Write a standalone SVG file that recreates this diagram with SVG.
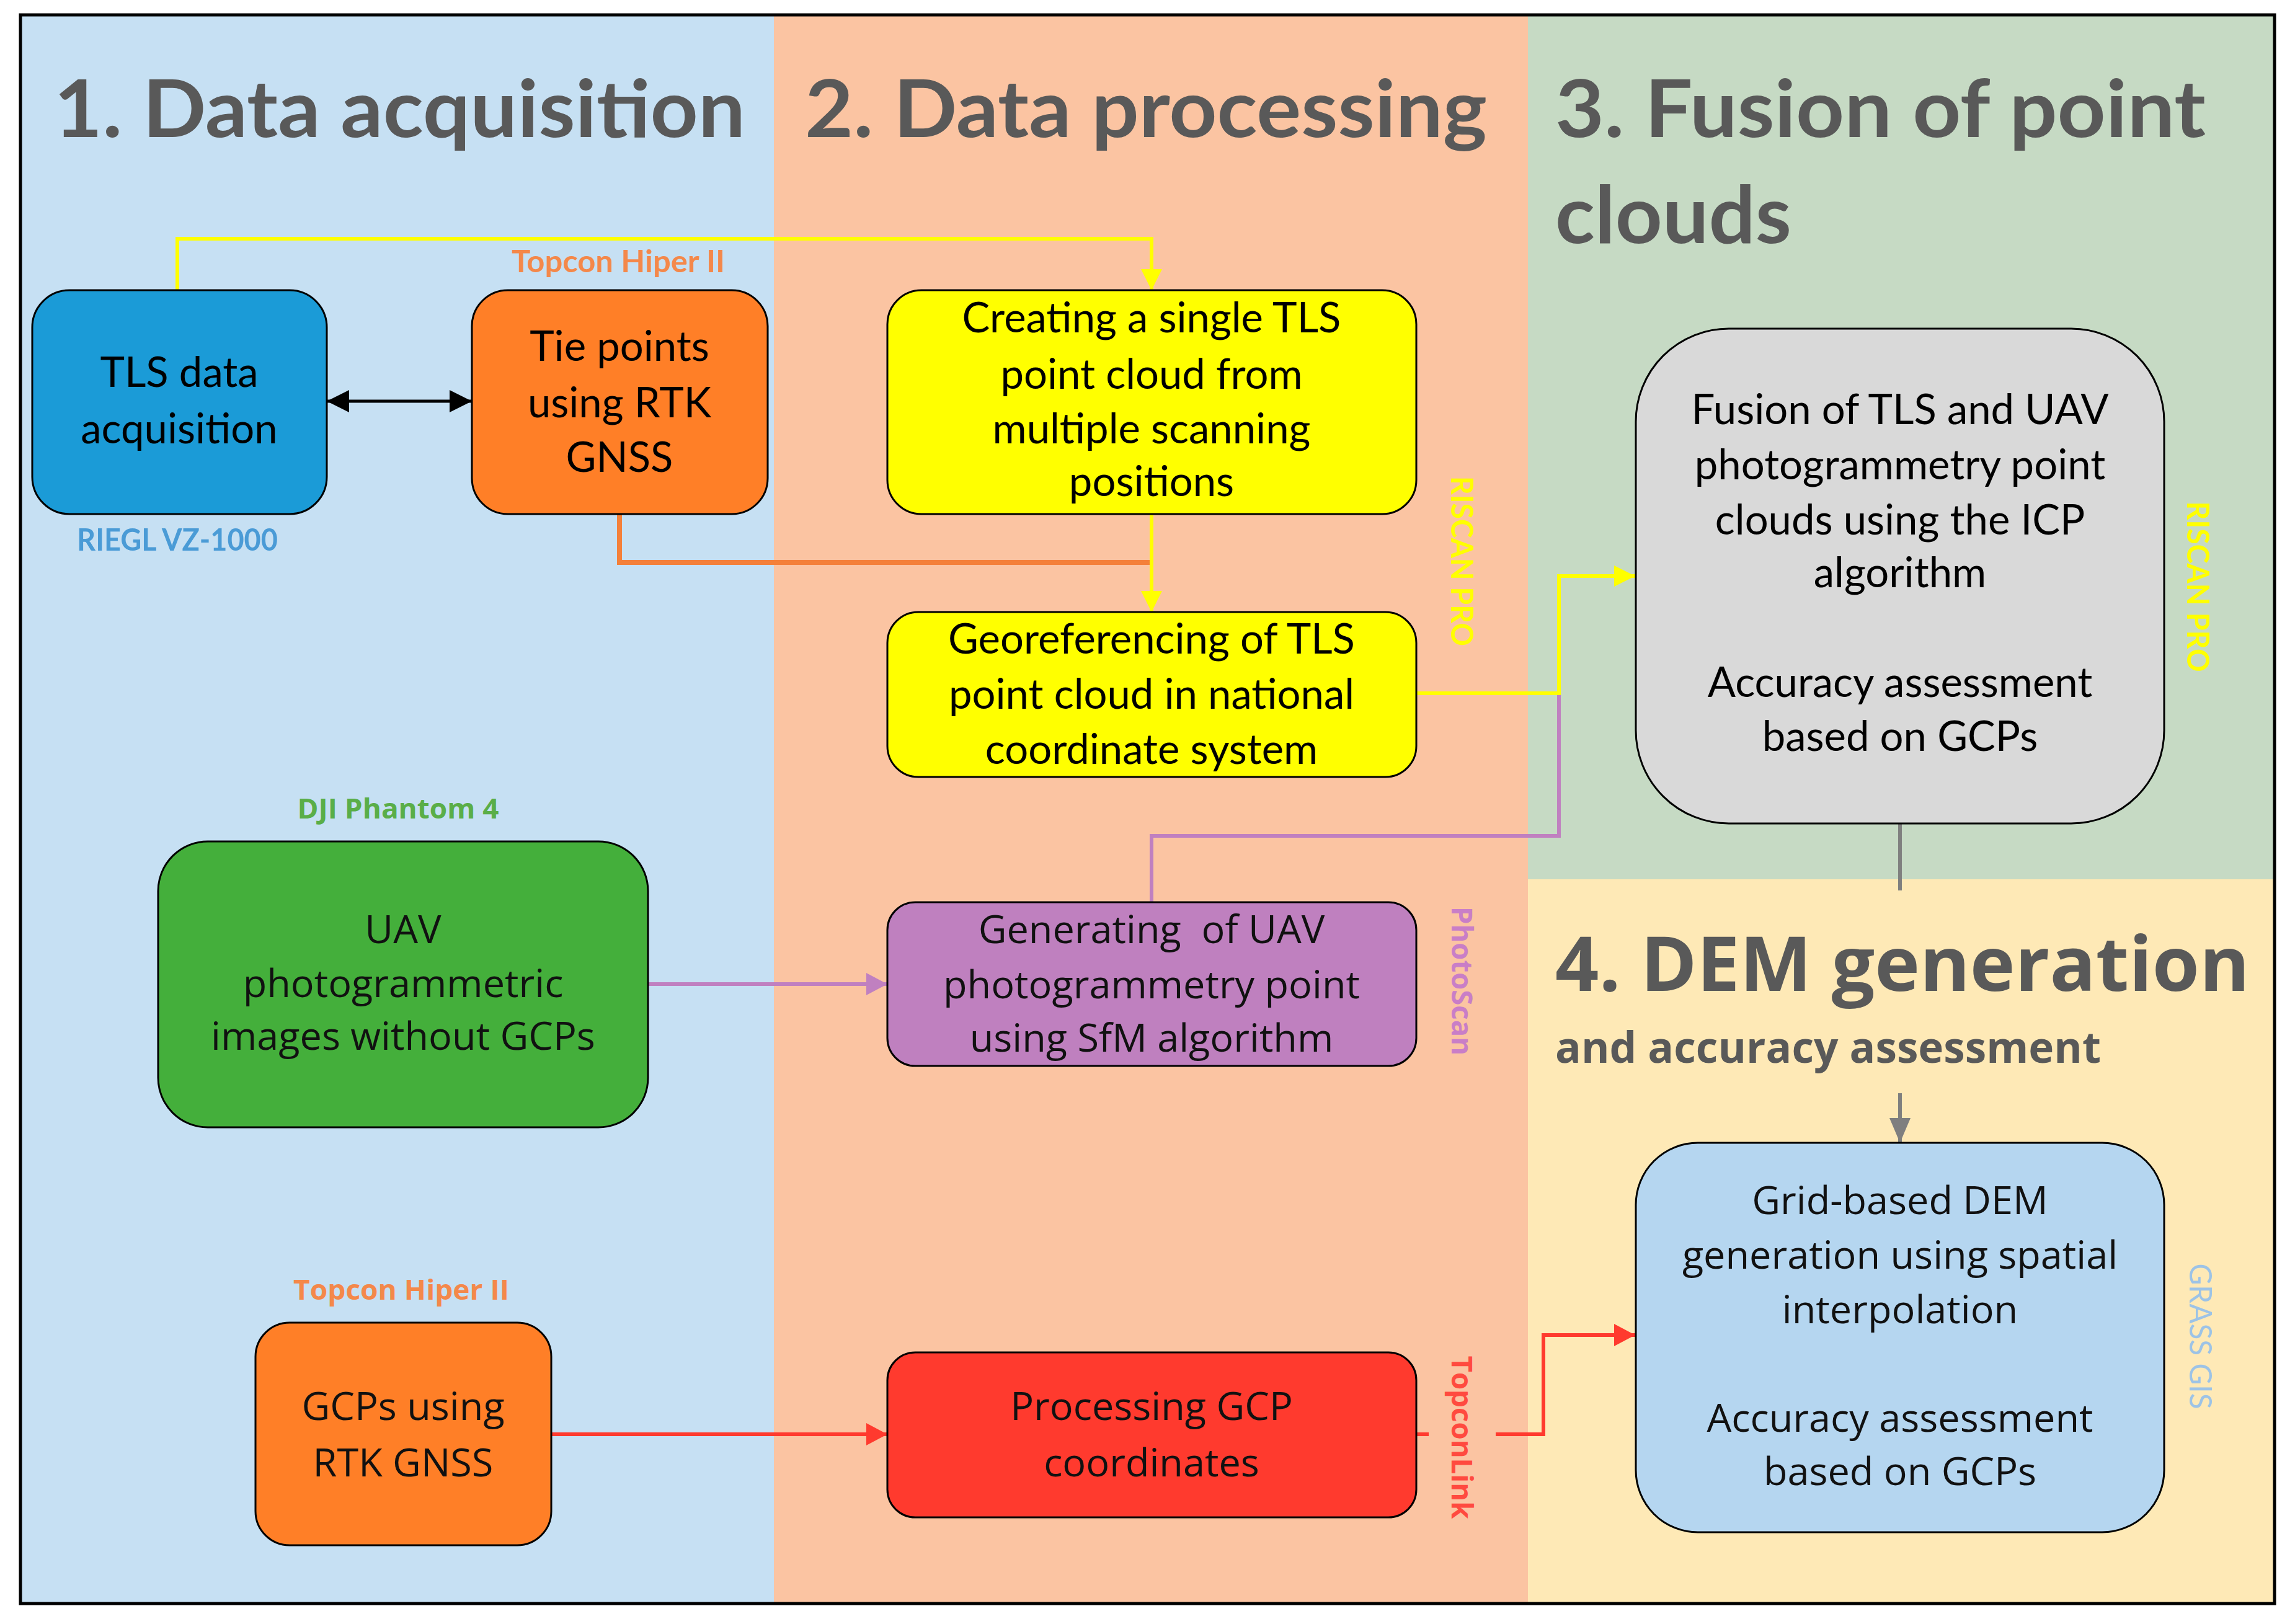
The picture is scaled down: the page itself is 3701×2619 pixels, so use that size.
<svg xmlns="http://www.w3.org/2000/svg" width="3701" height="2619" viewBox="0 0 3701 2619">
<style>
.cal{font-family:Lato,'Liberation Sans',sans-serif;}
.seg{font-family:'Open Sans','Noto Sans',sans-serif;}
.title{font-weight:bold;fill:#595959;}
.body{font-size:67px;fill:#000;text-anchor:middle;}
.sbody{font-size:63px;fill:#111;text-anchor:middle;}
.node{stroke:#000;stroke-width:3;}
.lab{font-weight:bold;}
.conn{fill:none;}
</style>
<defs>
<marker id="aY" markerUnits="userSpaceOnUse" markerWidth="36" markerHeight="34" refX="34" refY="17" orient="auto"><path d="M0,0 L34,17 L0,34 z" fill="#FFFF00"/></marker>
<marker id="aP" markerUnits="userSpaceOnUse" markerWidth="36" markerHeight="36" refX="34" refY="18" orient="auto"><path d="M0,0 L34,18 L0,36 z" fill="#C080C0"/></marker>
<marker id="aR" markerUnits="userSpaceOnUse" markerWidth="36" markerHeight="36" refX="34" refY="18" orient="auto"><path d="M0,0 L34,18 L0,36 z" fill="#FF3A2E"/></marker>
<marker id="aG" markerUnits="userSpaceOnUse" markerWidth="42" markerHeight="34" refX="40" refY="17" orient="auto"><path d="M0,0 L40,17 L0,34 z" fill="#7F7F7F"/></marker>
<marker id="aK" markerUnits="userSpaceOnUse" markerWidth="38" markerHeight="36" refX="36" refY="18" orient="auto-start-reverse"><path d="M0,0 L36,18 L0,36 z" fill="#000"/></marker>
</defs>

<g id="background">
<rect x="0" y="0" width="3701" height="2619" fill="#FFFFFF"/>
<rect x="33" y="24" width="1216" height="2562" fill="#C6E0F3"/>
<rect x="1248" y="24" width="1217" height="2562" fill="#FBC4A2"/>
<rect x="2464" y="24" width="1204" height="1395" fill="#C6DAC4"/>
<rect x="2464" y="1418" width="1204" height="1168" fill="#FEE9B6"/>
<rect x="33" y="24" width="3635" height="2562" fill="none" stroke="#000" stroke-width="5"/>
</g>

<g id="titles">
<text class="cal title" x="87" y="221" font-size="128" textLength="1115" lengthAdjust="spacingAndGlyphs">1. Data acquisition</text>
<text class="cal title" x="1298" y="221" font-size="128" textLength="1100" lengthAdjust="spacingAndGlyphs">2. Data processing</text>
<text class="cal title" x="2508" y="221" font-size="128" textLength="1049" lengthAdjust="spacingAndGlyphs">3. Fusion of point</text>
<text class="cal title" x="2508" y="392" font-size="128" textLength="381" lengthAdjust="spacingAndGlyphs">clouds</text>
<text class="seg title" x="2508" y="1598" font-size="122" textLength="1120" lengthAdjust="spacingAndGlyphs">4. DEM generation</text>
<text class="seg title" x="2508" y="1714" font-size="70" textLength="880" lengthAdjust="spacingAndGlyphs">and accuracy assessment</text>
</g>

<g id="labels">
<text class="cal lab" x="997" y="439" font-size="50" fill="#F4884A" text-anchor="middle" textLength="344" lengthAdjust="spacingAndGlyphs">Topcon Hiper II</text>
<text class="cal lab" x="286" y="888" font-size="50" fill="#4A9BD6" text-anchor="middle" textLength="324" lengthAdjust="spacingAndGlyphs">RIEGL VZ-1000</text>
<text class="seg lab" x="642" y="1320" font-size="45" fill="#5AAE48" text-anchor="middle" textLength="325" lengthAdjust="spacingAndGlyphs">DJI Phantom 4</text>
<text class="seg lab" x="647" y="2096" font-size="45" fill="#F4884A" text-anchor="middle" textLength="348" lengthAdjust="spacingAndGlyphs">Topcon Hiper II</text>
<text class="cal lab" transform="translate(2340,905) rotate(90)" font-size="50" fill="#FFFF00" text-anchor="middle" textLength="274" lengthAdjust="spacingAndGlyphs">RISCAN PRO</text>
<text class="cal lab" transform="translate(3527,946) rotate(90)" font-size="50" fill="#FFFF00" text-anchor="middle" textLength="275" lengthAdjust="spacingAndGlyphs">RISCAN PRO</text>
<text class="seg lab" transform="translate(2341,1582) rotate(90)" font-size="47" fill="#C97EC7" text-anchor="middle" textLength="240" lengthAdjust="spacingAndGlyphs">PhotoScan</text>
<text class="seg lab" transform="translate(2341,2318) rotate(90)" font-size="47" fill="#FF4A3F" text-anchor="middle" textLength="263" lengthAdjust="spacingAndGlyphs">TopconLink</text>
<text class="cal" transform="translate(3531,2155) rotate(90)" font-size="50" fill="#9DC3E6" text-anchor="middle" textLength="235" lengthAdjust="spacingAndGlyphs">GRASS GIS</text>
</g>

<g id="connectors">
<path class="conn" d="M286,468 V385 H1857 V468" stroke="#FFFF00" stroke-width="6" marker-end="url(#aY)"/>
<path class="conn" d="M999,829 V907 H1855" stroke="#F4803A" stroke-width="8"/>
<path class="conn" d="M1857,829 V987" stroke="#FFFF00" stroke-width="6" marker-end="url(#aY)"/>
<path class="conn" d="M527,647 H761" stroke="#000" stroke-width="5" marker-start="url(#aK)" marker-end="url(#aK)"/>
<path class="conn" d="M1857,1455 V1348 H2514 V1118" stroke="#C080C0" stroke-width="6"/>
<path class="conn" d="M2284,1118 H2514 V929 H2637" stroke="#FFFF00" stroke-width="6" marker-end="url(#aY)"/>
<path class="conn" d="M1045,1587 H1431" stroke="#C080C0" stroke-width="6" marker-end="url(#aP)"/>
<path class="conn" d="M889,2313 H1431" stroke="#FF3A2E" stroke-width="6" marker-end="url(#aR)"/>
<path class="conn" d="M2284,2313 H2304" stroke="#FF3A2E" stroke-width="6"/>
<path class="conn" d="M2412,2313 H2489 V2153 H2637" stroke="#FF3A2E" stroke-width="6" marker-end="url(#aR)"/>
<path class="conn" d="M3064,1328 V1436" stroke="#7F7F7F" stroke-width="6"/>
<path class="conn" d="M3064,1763 V1843" stroke="#7F7F7F" stroke-width="6" marker-end="url(#aG)"/>
</g>

<g id="node-tls">
<rect class="node" x="52" y="468" width="475" height="361" rx="60" fill="#1B9BD7"/>
<text class="cal body" x="289"><tspan x="289" y="624">TLS data</tspan><tspan x="289" y="715">acquisition</tspan></text>
</g>
<g id="node-tie">
<rect class="node" x="761" y="468" width="477" height="361" rx="58" fill="#FF7F27"/>
<text class="cal body"><tspan x="999" y="582">Tie points</tspan><tspan x="999" y="673">using RTK</tspan><tspan x="999" y="761">GNSS</tspan></text>
</g>
<g id="node-single-cloud">
<rect class="node" x="1431" y="468" width="853" height="361" rx="55" fill="#FFFF00"/>
<text class="cal body"><tspan x="1857" y="536">Creating a single TLS</tspan><tspan x="1857" y="627">point cloud from</tspan><tspan x="1857" y="715">multiple scanning</tspan><tspan x="1857" y="800">positions</tspan></text>
</g>
<g id="node-georef">
<rect class="node" x="1431" y="987" width="853" height="266" rx="50" fill="#FFFF00"/>
<text class="cal body"><tspan x="1857" y="1054">Georeferencing of TLS</tspan><tspan x="1857" y="1143">point cloud in national</tspan><tspan x="1857" y="1232">coordinate system</tspan></text>
</g>
<g id="node-fusion">
<rect class="node" x="2638" y="530" width="852" height="798" rx="150" fill="#D9D9D9"/>
<text class="cal body"><tspan x="3064" y="684">Fusion of TLS and UAV</tspan><tspan x="3064" y="773">photogrammetry point</tspan><tspan x="3064" y="862">clouds using the ICP</tspan><tspan x="3064" y="947">algorithm</tspan><tspan x="3064" y="1124">Accuracy assessment</tspan><tspan x="3064" y="1211">based on GCPs</tspan></text>
</g>
<g id="node-uav">
<rect class="node" x="255" y="1357" width="790" height="461" rx="80" fill="#44AF3B"/>
<text class="seg sbody"><tspan x="650" y="1521">UAV</tspan><tspan x="650" y="1608">photogrammetric</tspan><tspan x="650" y="1693">images without GCPs</tspan></text>
</g>
<g id="node-sfm">
<rect class="node" x="1431" y="1455" width="853" height="264" rx="45" fill="#BF80BF"/>
<text class="seg sbody" xml:space="preserve"><tspan x="1857" y="1521">Generating  of UAV</tspan><tspan x="1857" y="1610">photogrammetry point</tspan><tspan x="1857" y="1696">using SfM algorithm</tspan></text>
</g>
<g id="node-gcps">
<rect class="node" x="412" y="2133" width="477" height="359" rx="55" fill="#FF7F27"/>
<text class="seg sbody"><tspan x="650" y="2290">GCPs using</tspan><tspan x="650" y="2381">RTK GNSS</tspan></text>
</g>
<g id="node-gcp-processing">
<rect class="node" x="1431" y="2181" width="853" height="266" rx="45" fill="#FF3A2E"/>
<text class="seg sbody"><tspan x="1857" y="2290">Processing GCP</tspan><tspan x="1857" y="2381">coordinates</tspan></text>
</g>
<g id="node-dem">
<rect class="node" x="2638" y="1843" width="852" height="628" rx="100" fill="#B5D6F0"/>
<text class="seg sbody"><tspan x="3064" y="1958">Grid-based DEM</tspan><tspan x="3064" y="2046">generation using spatial</tspan><tspan x="3064" y="2134">interpolation</tspan><tspan x="3064" y="2309">Accuracy assessment</tspan><tspan x="3064" y="2395">based on GCPs</tspan></text>
</g>
</svg>
